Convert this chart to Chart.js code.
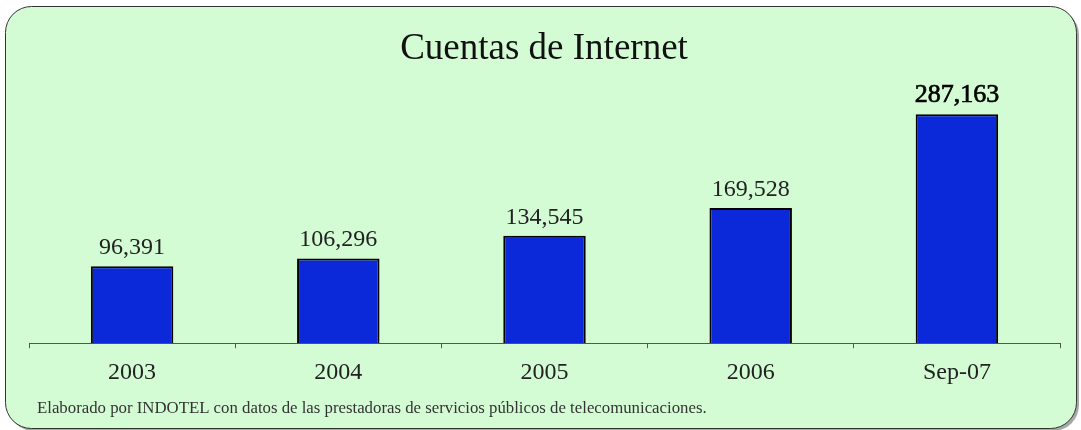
<!DOCTYPE html>
<html>
<head>
<meta charset="utf-8">
<script src="https://cdn.jsdelivr.net/npm/chart.js@4"></script>
<style>
  html, body { margin: 0; padding: 0; background: #ffffff; }
  canvas { display: block; }
</style>
</head>
<body>
<canvas id="chart" width="1081" height="430"></canvas>
<script>
const categories = ['2003', '2004', '2005', '2006', 'Sep-07'];
const cuentas = [96391, 106296, 134545, 169528, 287163];
const chartTitle = 'Cuentas de Internet';
const footnote = 'Elaborado por INDOTEL con datos de las prestadoras de servicios públicos de telecomunicaciones.';

const SERIF = '"Liberation Serif", "DejaVu Serif", serif';

// rounded green panel behind everything
const panelPlugin = {
  id: 'panel',
  beforeDraw(chart) {
    const ctx = chart.ctx;
    ctx.save();
    ctx.fillStyle = '#a8a8a8';
    ctx.beginPath();
    ctx.roundRect(8, 9, 1071, 422, 26);
    ctx.fill();
    ctx.fillStyle = '#d4fcd4';
    ctx.strokeStyle = '#333333';
    ctx.lineWidth = 1;
    ctx.beginPath();
    ctx.roundRect(5.5, 6.5, 1071, 422, 26);
    ctx.fill();
    ctx.stroke();
    ctx.restore();
  }
};

// title, value labels and source note
const textPlugin = {
  id: 'texts',
  afterDatasetsDraw(chart) {
    const ctx = chart.ctx;
    ctx.save();
    ctx.textAlign = 'center';
    ctx.textBaseline = 'alphabetic';

    ctx.fillStyle = '#111111';
    ctx.font = '37px ' + SERIF;
    ctx.fillText(chartTitle, 544, 59);

    const meta = chart.getDatasetMeta(0);
    meta.data.forEach((bar, i) => {
      const last = i === meta.data.length - 1;
      const txt = cuentas[i].toLocaleString('en-US');
      ctx.fillStyle = last ? '#000000' : '#222222';
      ctx.font = (last ? '26px ' : '24px ') + SERIF;
      ctx.fillText(txt, bar.x, bar.y - 12);
      if (last) {
        // slightly heavier, like the reference's last label
        ctx.strokeStyle = '#000000';
        ctx.lineWidth = 0.7;
        ctx.strokeText(txt, bar.x, bar.y - 12);
      }
    });

    ctx.textAlign = 'left';
    ctx.fillStyle = '#333333';
    ctx.font = '16.8px ' + SERIF;
    ctx.fillText(footnote, 37, 413);
    ctx.restore();
  }
};

new Chart(document.getElementById('chart'), {
  type: 'bar',
  data: {
    labels: categories,
    datasets: [{
      data: cuentas,
      backgroundColor: '#0b29d9',
      borderColor: '#000000',
      borderWidth: 2,
      barPercentage: 0.4,
      categoryPercentage: 1
    }]
  },
  options: {
    responsive: false,
    animation: false,
    layout: {
      padding: { top: 64, left: 29, right: 21, bottom: 33 }
    },
    plugins: {
      legend: { display: false },
      title: { display: false },
      tooltip: { enabled: false }
    },
    scales: {
      x: {
        offset: true,
        grid: {
          offset: true,
          drawOnChartArea: false,
          drawTicks: true,
          tickLength: 5,
          color: '#555555'
        },
        border: { color: '#555555', width: 1 },
        ticks: {
          color: '#222222',
          padding: 10,
          font: { family: SERIF, size: 24 }
        }
      },
      y: {
        display: false,
        min: 0,
        max: 350000
      }
    }
  },
  plugins: [panelPlugin, textPlugin]
});
</script>
</body>
</html>
